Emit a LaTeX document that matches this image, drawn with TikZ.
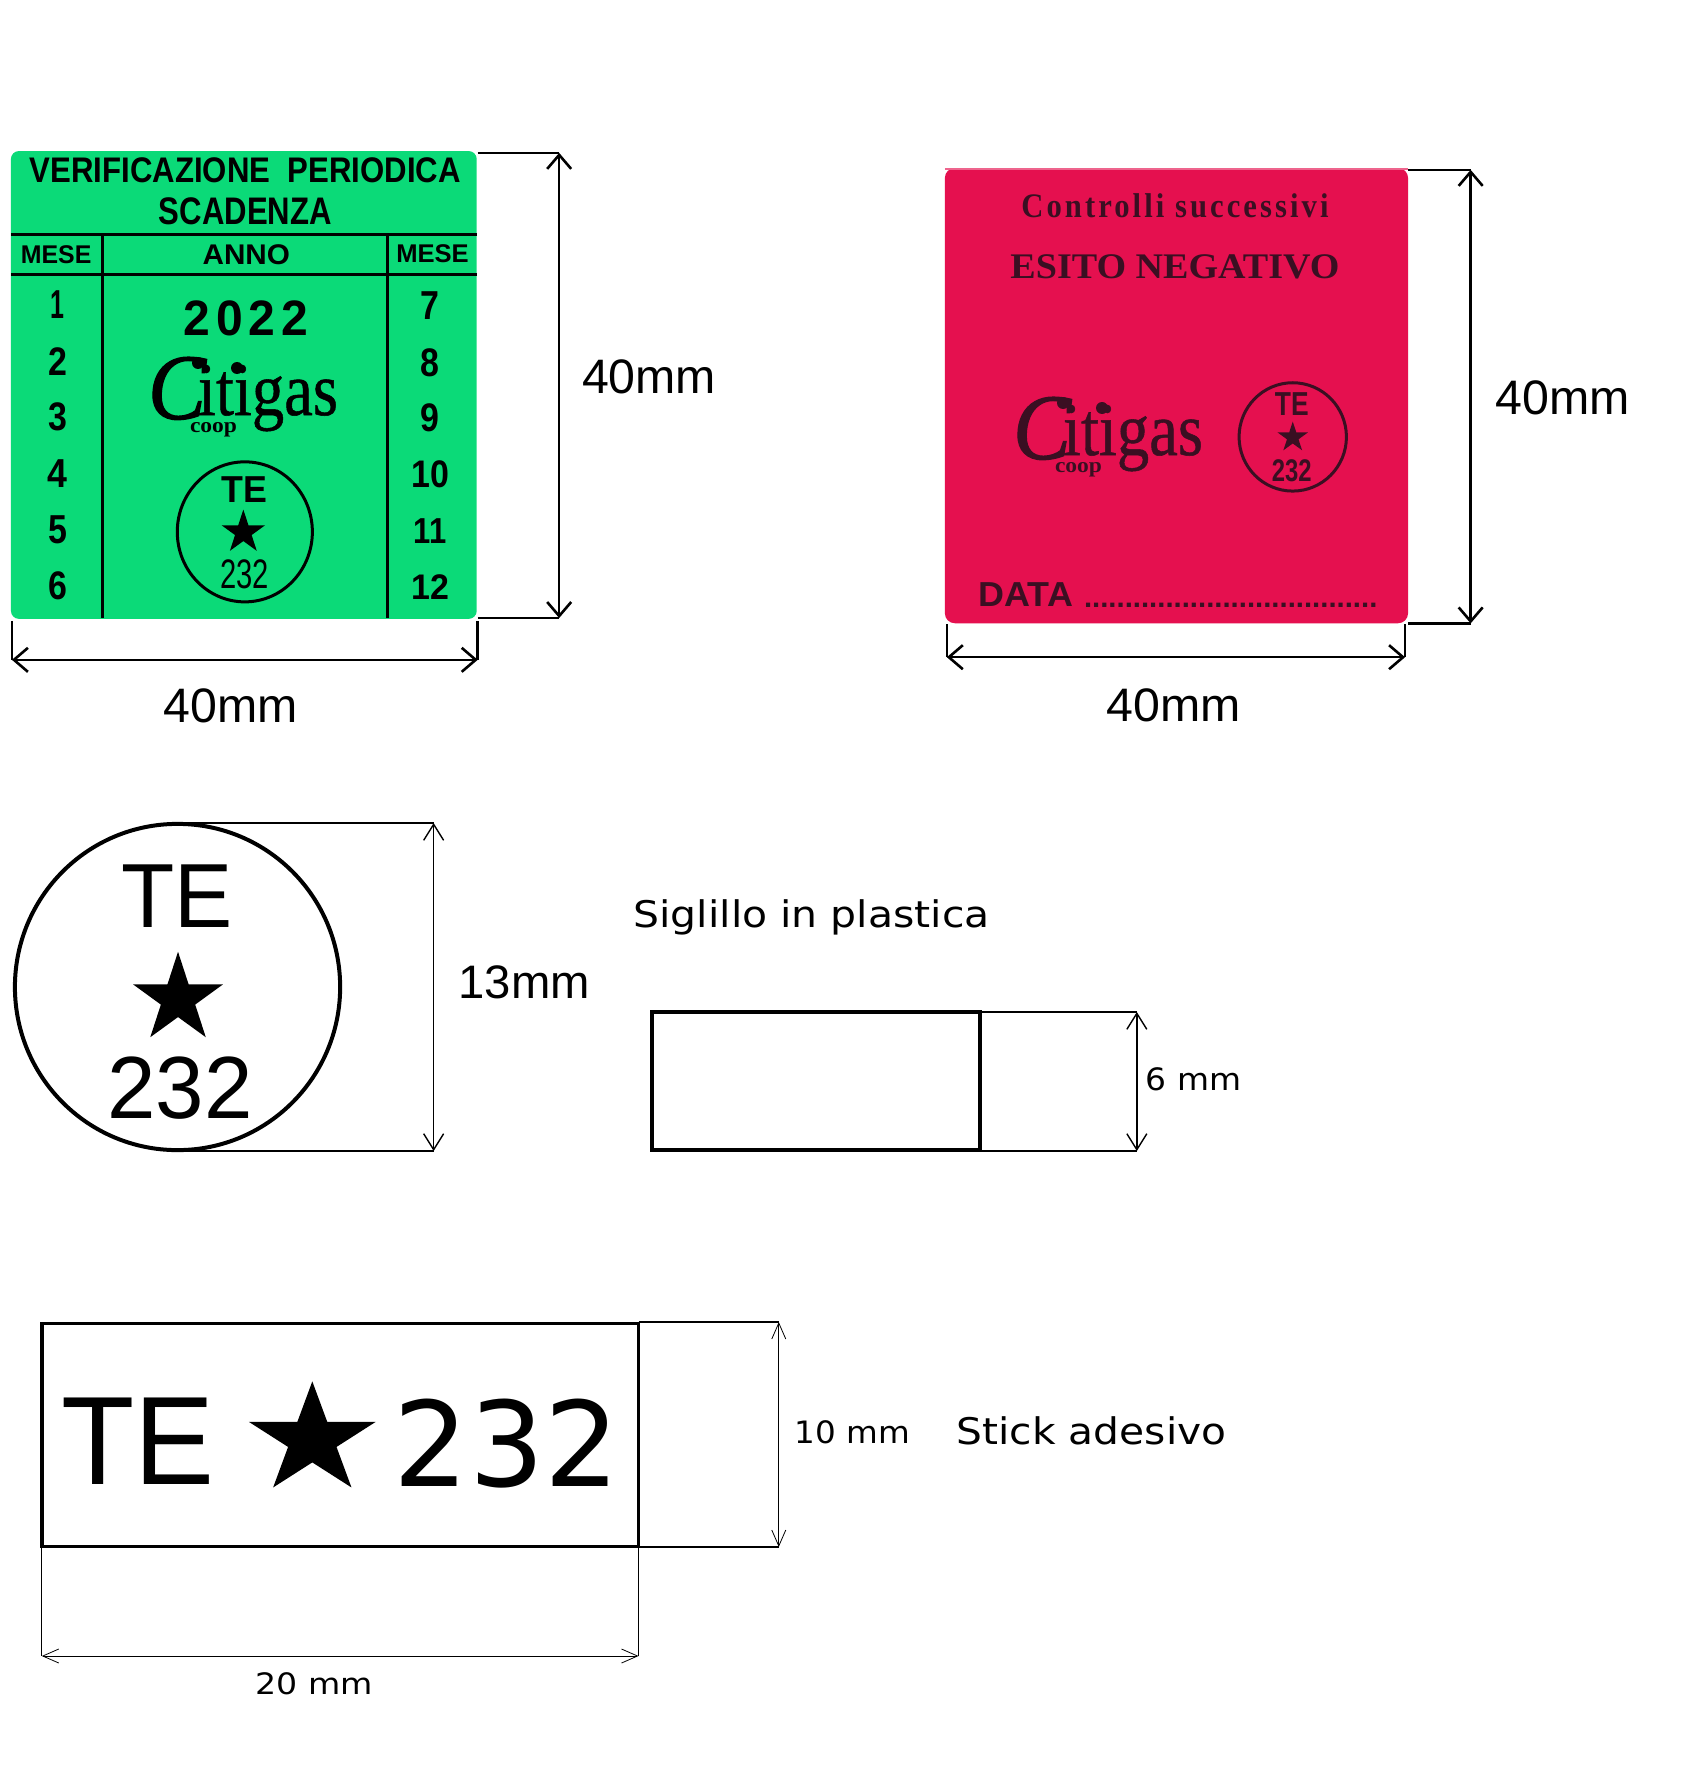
\documentclass[tikz,border=0pt]{standalone}
\usepackage{fontspec}
\usetikzlibrary{arrows.meta,shapes.geometric}
\setmainfont{Liberation Sans}
\newfontfamily\serf{Liberation Serif}
\newfontfamily\logof[FakeBold=0.7]{Liberation Serif}
\newfontfamily\logoc[FakeBold=1.2]{Liberation Serif Italic}
\newfontfamily\djfont{DejaVu Sans}
\newlength\pxu
\setlength\pxu{0.5pt}
\newcommand\fit[3]{\resizebox{#1\pxu}{#2\pxu}{#3}}
\definecolor{gsticker}{HTML}{0BDA78}
\definecolor{rsticker}{HTML}{E5104F}
\definecolor{rink}{HTML}{3A0F22}
\tikzset{
  txt/.style={inner sep=0pt,outer sep=0pt,anchor=base west},
  ctxt/.style={inner sep=0pt,outer sep=0pt,anchor=base},
  starmark/.style={star,star points=5,star point ratio=2.618,fill=#1,draw=none,inner sep=0pt,outer sep=0pt},
  starmark/.default=black,
  ring/.style={ellipse,draw=#1,fill=none,inner sep=0pt,outer sep=0pt,line width=1.5pt},
  ring/.default=black,
  extthick/.style={line width=1.3pt},
  extthin/.style={line width=0.6pt},
  dimthick/.style={line width=1.3pt,{Straight Barb[length=7pt,width=12pt]}-{Straight Barb[length=7pt,width=12pt]}},
  dimmid/.style={line width=0.7pt,{Straight Barb[length=8pt,width=10pt]}-{Straight Barb[length=8pt,width=10pt]}},
  dimfine/.style={line width=0.4pt,{Straight Barb[length=8pt,width=7pt]}-{Straight Barb[length=8pt,width=7pt]}},
  box/.style={draw=black,fill=white,inner sep=0pt,outer sep=0pt,line width=2pt},
}
% logo: #1 name prefix, #2 x, #3 y, #4 colour
\newcommand\citilogo[4]{%
  \begin{scope}[shift={(#2,#3)}]
    \node[txt,text=#4] (#1c) at (8,74) {\fit{58}{62}{\logoc C}};
    \node[txt,text=#4] (#1i) at (58,70) {\fit{140}{50}{\logof itigas}};
    \node[txt,text=#4] (#1p) at (50,87) {\fit{47}{10}{\serf\bfseries coop}};
    \fill[#4] (58,18) circle (6);
    \fill[#4] (97,23) circle (6);
  \end{scope}}
\begin{document}
\begin{tikzpicture}[x=0.5pt,y=-0.5pt]
\path[use as bounding box,fill=white] (0,0) rectangle (1690,1765);

% ---------- green sticker
\begin{scope}[x=0.4966pt,y=-0.49795pt,shift={(0pt,-0.2665pt)}]
\setlength\pxu{0.4966pt}
\node[fill=gsticker,inner sep=0pt,outer sep=0pt,rounded corners=4pt,minimum width=469\pxu,minimum height=471\pxu] (g) at (245.5,386) {};
\coordinate (gh1a) at (11,235); \coordinate (gh1b) at (480,235);
\coordinate (gh2a) at (11,275); \coordinate (gh2b) at (480,275);
\coordinate (gv1a) at (103,235); \coordinate (gv1b) at (103,620);
\coordinate (gv2a) at (390,235); \coordinate (gv2b) at (390,620);
\draw[line width=1.3pt] (gh1a)--(gh1b) (gh2a)--(gh2b) (gv1a)--(gv1b) (gv2a)--(gv2b);
\node[txt] (g1) at (30,183) {\fit{434}{25}{\bfseries VERIFICAZIONE\ \ PERIODICA}};
\node[txt] (g2) at (160,225) {\fit{174}{27}{\bfseries SCADENZA}};
\node[txt] (g3) at (21,264) {\fit{71}{18}{\bfseries MESE}};
\node[txt] (g4) at (204,265) {\fit{88}{20}{\bfseries ANNO}};
\node[txt] (g5) at (399,263) {\fit{73}{18}{\bfseries MESE}};
\node[ctxt] (gm1) at (58,319) {\fit{14}{28}{\bfseries 1}};
\node[ctxt] (gm2) at (58,377) {\fit{19}{28}{\bfseries 2}};
\node[ctxt] (gm3) at (58,432) {\fit{19}{28}{\bfseries 3}};
\node[ctxt] (gm4) at (58,489) {\fit{20}{28}{\bfseries 4}};
\node[ctxt] (gm5) at (58,545) {\fit{19}{28}{\bfseries 5}};
\node[ctxt] (gm6) at (58,601) {\fit{19}{28}{\bfseries 6}};
\node[ctxt] (gm7) at (433,320) {\fit{19}{28}{\bfseries 7}};
\node[ctxt] (gm8) at (433,378) {\fit{19}{28}{\bfseries 8}};
\node[ctxt] (gm9) at (433,433) {\fit{19}{28}{\bfseries 9}};
\node[ctxt] (gm10) at (433,489) {\fit{38}{27}{\bfseries 10}};
\node[ctxt] (gm11) at (433,545) {\fit{33}{25}{\bfseries 11}};
\node[ctxt] (gm12) at (433,601) {\fit{38}{25}{\bfseries 12}};
\node[txt] (gy) at (185,336) {\fit{125}{35}{\addfontfeature{LetterSpace=12}\bfseries 2022}};
\node[ring,minimum width=136\pxu,minimum height=141\pxu] (gring) at (246.5,533.5) {};
\node[txt] (gte) at (223,504) {\fit{46}{26}{\bfseries TE}};
\node[starmark,minimum size=46\pxu] (gstar) at (245,534) {};
\node[txt] (g232) at (222,590) {\fit{49}{29}{232}};
% green dimensions
\coordinate (gt0) at (481,153); \coordinate (gt1) at (563,153);
\coordinate (gb0) at (481,620); \coordinate (gb1) at (563,620);
\coordinate (gl0) at (12,623); \coordinate (gl1) at (12,662);
\coordinate (gr0) at (481,623); \coordinate (gr1) at (481,662);
\draw[extthick] (gt0)--(gt1) (gb0)--(gb1) (gl0)--(gl1) (gr0)--(gr1);
\draw[dimthick] (gt1)--(gb1);
\draw[dimthick] (gl1)--(gr1);
\node[txt] (gd1) at (586,395) {\fit{135}{34}{40mm}};
\node[txt] (gd2) at (165,725) {\fit{135}{34}{40mm}};
\end{scope}
\citilogo{gc}{140}{345}{black}

% ---------- red sticker
\begin{scope}[x=0.497pt,y=-0.49725pt,shift={(2.76pt,-0.41pt)}]
\setlength\pxu{0.497pt}
\node[fill=rsticker,inner sep=0pt,outer sep=0pt,rounded corners=5pt,minimum width=466\pxu,minimum height=458\pxu] (r) at (945+233,397) {};
\coordinate (rtop0) at (945,169); \coordinate (rtop1) at (1411,169);
\draw[line width=0.8pt,color=rsticker!65!white] (rtop0)--(rtop1);
\node[txt,text=rink] (r1) at (1022,218) {\fit{309}{24}{\serf\bfseries\addfontfeature{LetterSpace=10}Controlli successivi}};
\node[txt,text=rink] (r2) at (1011,279) {\fit{331}{24}{\serf\bfseries ESITO NEGATIVO}};
\node[ring=rink,minimum width=108\pxu,minimum height=109\pxu] (rring) at (1295,438.5) {};
\node[txt,text=rink] (rte) at (1277,417) {\fit{34}{23}{\bfseries TE}};
\node[starmark=rink,minimum size=32\pxu] (rstar) at (1295,439) {};
\node[txt,text=rink] (r232) at (1274,483) {\fit{40}{22}{\bfseries 232}};
\node[txt,text=rink] (rdata) at (979,609) {\fit{95}{24}{\bfseries DATA}};
\node[txt,text=rink] (rdots) at (1085,610) {\resizebox{295\pxu}{!}{\bfseries ....................................}};
% red dimensions
\coordinate (rt0) at (1411,170); \coordinate (rt1) at (1474,170);
\coordinate (rb0) at (1411,626); \coordinate (rb1) at (1474,626);
\coordinate (rl0) at (947,627); \coordinate (rl1) at (947,660);
\coordinate (rr0) at (1408,627); \coordinate (rr1) at (1408,660);
\draw[extthick] (rt0)--(rt1) (rb0)--(rb1) (rl0)--(rl1) (rr0)--(rr1);
\draw[dimthick] (rt1)--(rb1);
\draw[dimthick] (rl1)--(rr1);
\node[txt] (rd1) at (1499,416) {\fit{135}{34}{40mm}};
\node[txt] (rd2) at (1108,725) {\fit{135}{33}{40mm}};
\end{scope}
\citilogo{rc}{1005}{385}{rink}

\begin{scope}[x=0.4973pt,y=-0.5pt]
\setlength\pxu{0.4973pt}
% ---------- round stamp
\node[ring,line width=2pt,minimum width=327\pxu,minimum height=328\pxu] (sr) at (178.5,987) {};
\node[txt] (ste) at (122,927) {\fit{112}{63}{TE}};
\node[starmark,minimum size=95\pxu] (sstar) at (179,999) {};
\node[txt] (s232) at (108,1118) {\fit{146}{62}{232}};
\coordinate (st0) at (180,823); \coordinate (st1) at (436,823);
\coordinate (sb0) at (178,1151); \coordinate (sb1) at (436,1151);
\draw[extthick] (st0)--(st1) (sb0)--(sb1);
\draw[dimmid] (st1)--(sb1);
\node[txt] (sd) at (461,998) {\fit{132}{33}{13mm}};

% ---------- plastic seal
\node[txt] (pl) at (637,927) {\fit{358}{28}{\djfont Siglillo in plastica}};
\node[box,minimum width=330\pxu,minimum height=139\pxu] (pr) at (820.5,1081) {};
\coordinate (pt0) at (985,1012); \coordinate (pt1) at (1143,1012);
\coordinate (pb0) at (985,1151); \coordinate (pb1) at (1143,1151);
\draw[extthick,line width=1pt] (pt0)--(pt1) (pb0)--(pb1);
\draw[dimmid] (pt1)--(pb1);
\node[txt] (pd) at (1152,1090) {\fit{96}{23}{\djfont 6 mm}};

% ---------- adhesive stick
\node[box,line width=1.8pt,minimum width=600\pxu,minimum height=224\pxu] (ad) at (342,1435) {};
\node[txt] (ate) at (62,1484) {\fit{154}{87}{TE}};
\node[starmark,minimum size=134\pxu,yscale=0.88,transform shape] (astar) at (314,1440) {};
\node[txt] (a232) at (396,1486) {\fit{227}{88}{\djfont 232}};
\coordinate (at0) at (642,1322); \coordinate (at1) at (783,1322);
\coordinate (ab0) at (642,1547); \coordinate (ab1) at (783,1547);
\coordinate (al0) at (42,1547); \coordinate (al1) at (42,1656);
\coordinate (ar0) at (642,1547); \coordinate (ar1) at (642,1656);
\draw[extthin] (at0)--(at1) (ab0)--(ab1) (al0)--(al1) (ar0)--(ar1);
\draw[dimfine] (at1)--(ab1);
\draw[dimfine] (al1)--(ar1);
\node[txt] (ad1) at (799,1443) {\fit{116}{23}{\djfont 10 mm}};
\node[txt] (al) at (962,1444) {\fit{271}{28}{\djfont Stick adesivo}};
\node[txt] (ad2) at (257,1694) {\fit{118}{22}{\djfont 20 mm}};
\end{scope}
\end{tikzpicture}
\end{document}
